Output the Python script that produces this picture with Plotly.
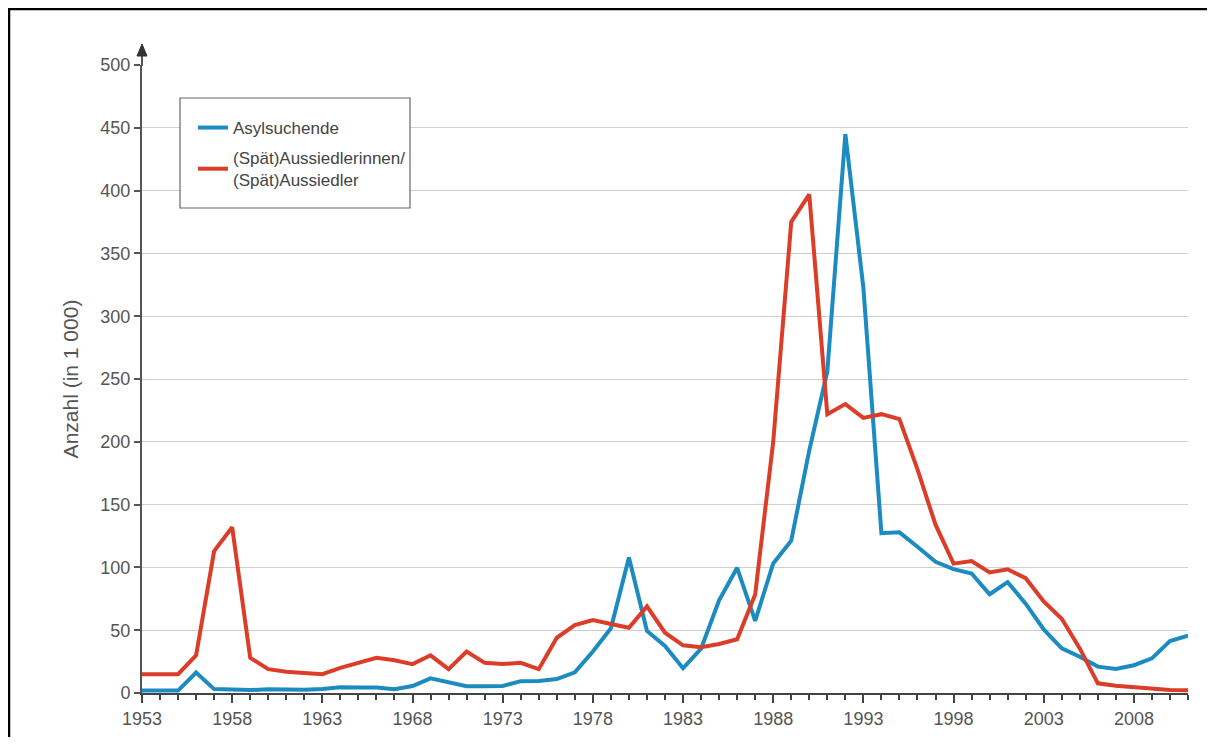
import plotly.graph_objects as go

years = list(range(1953, 2012))

asylsuchende = [1.9, 2.2, 1.9, 16.3, 3.1, 2.8, 2.3, 3.0, 2.7, 2.6,
                3.2, 4.5, 4.3, 4.4, 3.0, 5.6, 11.7, 8.6, 5.4, 5.3,
                5.6, 9.4, 9.6, 11.1, 16.4, 33.1, 51.5, 107.8, 49.4, 37.4,
                19.7, 35.3, 73.8, 99.7, 57.4, 103.1, 121.3, 193.1, 256.1, 445.0,
                322.6, 127.2, 127.9, 116.4, 104.4, 98.6, 95.1, 78.6, 88.3, 71.1,
                50.6, 35.6, 28.9, 21.0, 19.2, 22.1, 27.6, 41.3, 45.7]

aussiedler = [15.0, 15.0, 15.0, 30.0, 113.0, 132.0, 28.0, 19.0, 17.0, 16.0,
              15.0, 20.0, 24.0, 28.0, 26.0, 23.0, 30.0, 19.0, 33.0, 24.0,
              23.0, 24.0, 19.0, 44.0, 54.0, 58.0, 55.0, 52.0, 69.0, 48.0,
              38.0, 36.5, 39.0, 42.8, 78.5, 200.0, 375.0, 397.0, 222.0, 230.0,
              219.0, 222.0, 218.0, 178.0, 134.0, 103.0, 105.0, 96.0, 98.5, 91.4,
              72.9, 59.1, 35.5, 7.7, 5.8, 4.4, 3.4, 2.4, 2.1]

series_names = ["Asylsuchende", "(Spät)Aussiedlerinnen/<br>(Spät)Aussiedler"]
y_ticks = list(range(0, 501, 50))
x_ticks = list(range(1953, 2009, 5))

BLUE = "#1b8bc1"
RED = "#dc3d28"
OFF = 8  # page body margin
W, H = 1215 - 2 * OFF, 745 - 2 * OFF
L, R, T, B = 142 - OFF, W - (1188 - OFF), 65 - OFF, H - (693 - OFF)
PW, PH = W - L - R, H - T - B


def px(x):
    """reference screen x -> paper fraction"""
    return (x - OFF - L) / PW


def py(y):
    """reference screen y -> paper fraction"""
    return (H - B - (y - OFF)) / PH


fig = go.Figure()
fig.add_trace(go.Scatter(x=years, y=asylsuchende, name=series_names[0], mode="lines",
                         legendgroup="a", line=dict(color=BLUE, width=4)))
fig.add_trace(go.Scatter(x=years, y=aussiedler, name=series_names[1], mode="lines",
                         legendgroup="b", line=dict(color=RED, width=4)))

shapes = [
    # frame (top and left)
    dict(type="line", xref="paper", yref="paper", x0=px(8), x1=px(1216), y0=py(9), y1=py(9),
         line=dict(color="black", width=2.5)),
    dict(type="line", xref="paper", yref="paper", x0=px(9), x1=px(9), y0=py(9), y1=py(760),
         line=dict(color="black", width=2.5)),
    # y axis extension and arrow
    dict(type="line", xref="paper", yref="paper", x0=px(142), x1=px(142), y0=py(66), y1=py(52),
         line=dict(color="#555555", width=2)),
    dict(type="path", xref="paper", yref="paper",
         path=f"M {px(137)} {py(56)} L {px(147)} {py(56)} L {px(142)} {py(44)} Z",
         fillcolor="#333333", line=dict(color="#333333", width=1)),
    # legend frame
    dict(type="rect", xref="paper", yref="paper", x0=px(180), x1=px(410), y0=py(98), y1=py(208),
         fillcolor="white", line=dict(color="#666666", width=1.2), layer="above"),
]

fig.update_layout(
    width=W, height=H,
    margin=dict(l=L, r=R, t=T, b=B, autoexpand=False),
    paper_bgcolor="white", plot_bgcolor="white",
    font=dict(family="Liberation Sans, Arial, sans-serif", color="#555555", size=18),
    showlegend=True,
    legend=dict(x=px(193), y=py(110), xanchor="left", yanchor="top",
                borderwidth=0, bgcolor="rgba(0,0,0,0)",
                font=dict(size=17, color="#444444"), tracegroupgap=5),
    shapes=shapes,
    xaxis=dict(range=[1953, 2011], tickmode="array", tickvals=x_ticks, automargin=False,
               ticks="outside", ticklen=8, tickwidth=2, tickcolor="#444444",
               showline=True, linecolor="#444444", linewidth=2, showgrid=False,
               zeroline=False, tickfont=dict(size=18, color="#555555"),
               minor=dict(tickmode="linear", tick0=1953, dtick=1, ticks="outside",
                          ticklen=5, tickwidth=2, tickcolor="#444444", showgrid=False)),
    yaxis=dict(range=[0, 500], tickmode="array", tickvals=y_ticks, automargin=False,
               ticks="outside", ticklen=6, tickwidth=2, tickcolor="#555555",
               showline=True, linecolor="#555555", linewidth=2,
               showgrid=True, gridcolor="#cfcfcf", gridwidth=1, zeroline=False,
               tickfont=dict(size=18, color="#555555"),
               title=dict(text="Anzahl (in 1 000)", font=dict(size=21, color="#555555"),
                          standoff=16)),
)

fig.write_html("out.html")
